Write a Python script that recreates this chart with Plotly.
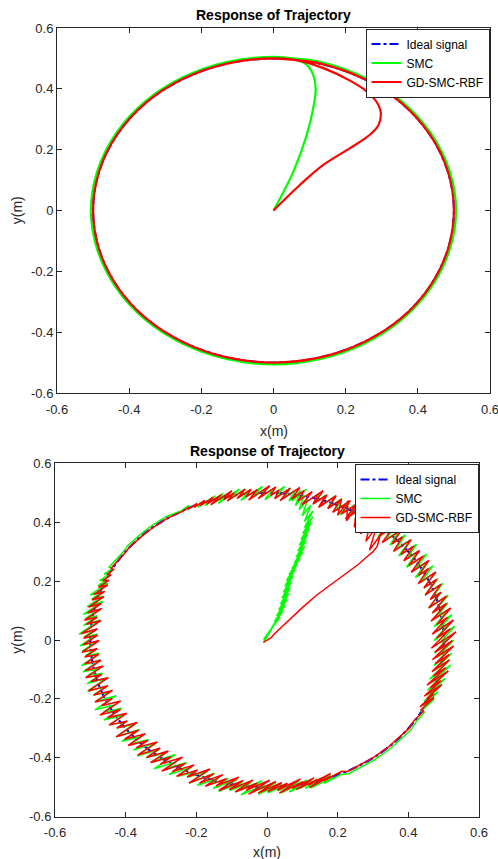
import plotly.graph_objects as go

# ---------------- data ----------------
tick_vals = [-0.6, -0.4, -0.2, 0, 0.2, 0.4, 0.6]
tick_text = ["-0.6", "-0.4", "-0.2", "0", "0.2", "0.4", "0.6"]

series_names = ["Ideal signal", "SMC", "GD-SMC-RBF"]

# ideal circle (radius 0.5), read every 15 degrees
ideal_pts = [(0.5, 0), (0.483, 0.129), (0.433, 0.25), (0.354, 0.354), (0.25, 0.433), (0.129, 0.483),
             (0, 0.5), (-0.129, 0.483), (-0.25, 0.433), (-0.354, 0.354), (-0.433, 0.25), (-0.483, 0.129),
             (-0.5, 0), (-0.483, -0.129), (-0.433, -0.25), (-0.354, -0.354), (-0.25, -0.433), (-0.129, -0.483),
             (0, -0.5), (0.129, -0.483), (0.25, -0.433), (0.354, -0.354), (0.433, -0.25), (0.483, -0.129),
             (0.5, 0)]

# top panel: SMC
smc_top_pts = [(0, 0), (0.028, 0.062), (0.055, 0.128), (0.092, 0.248), (0.11, 0.336), (0.117, 0.4),
               (0.11, 0.446), (0.092, 0.479), (0.055, 0.498), (0.0, 0.505),
               (-0.130, 0.488), (-0.2525, 0.437), (-0.357, 0.357), (-0.437, 0.2525), (-0.488, 0.130),
               (-0.506, 0), (-0.488, -0.130), (-0.437, -0.2525), (-0.357, -0.357), (-0.2525, -0.437),
               (-0.130, -0.488), (0, -0.506), (0.130, -0.488), (0.2525, -0.437), (0.357, -0.357),
               (0.437, -0.2525), (0.488, -0.130), (0.506, 0), (0.488, 0.130), (0.437, 0.2525),
               (0.357, 0.357), (0.2525, 0.437), (0.130, 0.488), (0.0, 0.504)]

# top panel: GD-SMC-RBF
rbf_top_pts = [(0, 0), (0.073, 0.084), (0.138, 0.15), (0.212, 0.205), (0.267, 0.249), (0.291, 0.281),
               (0.297, 0.325), (0.284, 0.36), (0.26, 0.39), (0.212, 0.427), (0.138, 0.468), (0.07, 0.493),
               (0, 0.5), (-0.129, 0.483), (-0.25, 0.433), (-0.354, 0.354), (-0.433, 0.25), (-0.483, 0.129),
               (-0.5, 0), (-0.483, -0.129), (-0.433, -0.25), (-0.354, -0.354), (-0.25, -0.433), (-0.129, -0.483),
               (0, -0.5), (0.129, -0.483), (0.25, -0.433), (0.354, -0.354), (0.433, -0.25), (0.483, -0.129),
               (0.5, 0), (0.483, 0.129), (0.433, 0.25), (0.354, 0.354), (0.25, 0.433), (0.129, 0.483), (0, 0.5)]

# bottom panel: SMC with chattering (read along the path)
smc_bot_pts = [
    (-0.010, -0.008),
    (0.014, 0.038), (-0.010, 0.002), (0.026, 0.058), (0.002, 0.022), (0.037, 0.078), (0.013, 0.042),
    (0.045, 0.098), (0.021, 0.062), (0.051, 0.118), (0.027, 0.082), (0.057, 0.138), (0.033, 0.102),
    (0.062, 0.158), (0.038, 0.122), (0.066, 0.178), (0.042, 0.142), (0.070, 0.198), (0.046, 0.162),
    (0.074, 0.218), (0.050, 0.182), (0.079, 0.238), (0.055, 0.202), (0.086, 0.258), (0.062, 0.222),
    (0.094, 0.278), (0.070, 0.242), (0.101, 0.298), (0.077, 0.262), (0.107, 0.318), (0.083, 0.282),
    (0.111, 0.338), (0.087, 0.302), (0.115, 0.358), (0.091, 0.322), (0.120, 0.378), (0.096, 0.342),
    (0.125, 0.398), (0.101, 0.362), (0.130, 0.418), (0.106, 0.382), (0.130, 0.438), (0.106, 0.402),
    (0.124, 0.458), (0.100, 0.422), (0.115, 0.478), (0.091, 0.442), (0.105, 0.493), (0.081, 0.457),
    (0.094, 0.508), (0.070, 0.472),
    (0.112, 0.512), (0.062, 0.472), (0.080, 0.508), (0.050, 0.484), (0.066, 0.516), (0.022, 0.480),
    (0.050, 0.522), (-0.006, 0.477), (0.018, 0.514), (-0.018, 0.486), (-0.002, 0.516), (-0.042, 0.483),
    (-0.013, 0.522), (-0.074, 0.474), (-0.050, 0.508), (-0.080, 0.484), (-0.062, 0.512), (-0.112, 0.472),
    (-0.078, 0.512), (-0.138, 0.464), (-0.118, 0.493), (-0.141, 0.473), (-0.124, 0.498), (-0.176, 0.456),
    (-0.146, 0.490), (-0.196, 0.450), (-0.176, 0.474), (-0.206, 0.450), (-0.197, 0.465), (-0.226, 0.441),
    (-0.221, 0.457), (-0.245, 0.437), (-0.263, 0.430),
    (-0.286, 0.419), (-0.331, 0.384), (-0.354, 0.363), (-0.393, 0.322), (-0.410, 0.295), (-0.447, 0.247),
    (-0.437, 0.243), (-0.461, 0.224), (-0.443, 0.226), (-0.474, 0.202), (-0.455, 0.203), (-0.479, 0.184),
    (-0.451, 0.193), (-0.500, 0.153), (-0.466, 0.164), (-0.496, 0.139), (-0.465, 0.148), (-0.509, 0.113),
    (-0.464, 0.131), (-0.520, 0.087), (-0.479, 0.102), (-0.514, 0.073), (-0.480, 0.082), (-0.519, 0.050),
    (-0.472, 0.068), (-0.532, 0.020), (-0.489, 0.034), (-0.518, 0.010), (-0.479, 0.020), (-0.529, -0.020),
    (-0.484, -0.006), (-0.523, -0.038), (-0.490, -0.034), (-0.514, -0.053), (-0.474, -0.045), (-0.525, -0.087),
    (-0.471, -0.067), (-0.521, -0.108), (-0.477, -0.097), (-0.507, -0.121), (-0.465, -0.113), (-0.509, -0.148),
    (-0.453, -0.129), (-0.508, -0.174), (-0.455, -0.158), (-0.492, -0.187), (-0.446, -0.177), (-0.485, -0.209),
    (-0.427, -0.189), (-0.487, -0.237), (-0.432, -0.221), (-0.462, -0.245), (-0.411, -0.232), (-0.462, -0.272),
    (-0.405, -0.255), (-0.445, -0.287), (-0.401, -0.279), (-0.425, -0.299), (-0.374, -0.286), (-0.426, -0.328),
    (-0.361, -0.304), (-0.411, -0.344), (-0.357, -0.328), (-0.386, -0.353), (-0.335, -0.339), (-0.378, -0.374),
    (-0.313, -0.349), (-0.368, -0.394), (-0.306, -0.372), (-0.342, -0.400), (-0.287, -0.384), (-0.327, -0.416),
    (-0.259, -0.389), (-0.319, -0.437), (-0.256, -0.413), (-0.286, -0.437), (-0.227, -0.416), (-0.277, -0.457),
    (-0.213, -0.431), (-0.253, -0.463), (-0.201, -0.448), (-0.225, -0.466), (-0.167, -0.445), (-0.219, -0.486),
    (-0.148, -0.453), (-0.197, -0.494), (-0.137, -0.469), (-0.166, -0.492), (-0.109, -0.470), (-0.152, -0.504),
    (-0.081, -0.470), (-0.137, -0.514), (-0.069, -0.482), (-0.106, -0.511), (-0.046, -0.484), (-0.086, -0.515),
    (-0.014, -0.478), (-0.074, -0.526), (-0.007, -0.492), (-0.037, -0.515), (0.025, -0.484), (-0.025, -0.524),
    (0.042, -0.488), (0.002, -0.519), (0.056, -0.492), (0.032, -0.512), (0.092, -0.479), (0.040, -0.520),
    (0.112, -0.476), (0.063, -0.516), (0.124, -0.480), (0.094, -0.504), (0.152, -0.469), (0.108, -0.504),
    (0.180, -0.458), (0.123, -0.503), (0.185, -0.468), (0.162, -0.487), (0.209, -0.457),
    (0.231, -0.454), (0.277, -0.425), (0.305, -0.406), (0.347, -0.371), (0.371, -0.346), (0.407, -0.306),
    (0.422, -0.278), (0.445, -0.246), (0.436, -0.243),
    (0.473, -0.201), (0.443, -0.225), (0.484, -0.176), (0.444, -0.208), (0.492, -0.156), (0.452, -0.188),
    (0.504, -0.131), (0.454, -0.171), (0.503, -0.115), (0.467, -0.144), (0.520, -0.085), (0.460, -0.133),
    (0.514, -0.071), (0.474, -0.103), (0.523, -0.045), (0.473, -0.086), (0.520, -0.028), (0.480, -0.060),
    (0.529, 0.000), (0.474, -0.044), (0.517, 0.012), (0.487, -0.012), (0.531, 0.046), (0.472, -0.002),
    (0.520, 0.060), (0.480, 0.028), (0.523, 0.086), (0.473, 0.045), (0.512, 0.102), (0.477, 0.073),
    (0.512, 0.126), (0.468, 0.091), (0.513, 0.152), (0.457, 0.108), (0.494, 0.163), (0.464, 0.139),
    (0.497, 0.192), (0.447, 0.152), (0.484, 0.208), (0.444, 0.176), (0.475, 0.228), (0.435, 0.196),
    (0.470, 0.252), (0.420, 0.212), (0.453, 0.265), (0.417, 0.237), (0.452, 0.292), (0.395, 0.247),
    (0.426, 0.300), (0.396, 0.276), (0.423, 0.325), (0.373, 0.286), (0.405, 0.339), (0.364, 0.307),
    (0.392, 0.357), (0.348, 0.322), (0.373, 0.369), (0.337, 0.341), (0.364, 0.390), (0.314, 0.350),
    (0.343, 0.401), (0.302, 0.368), (0.333, 0.421), (0.278, 0.376), (0.303, 0.423), (0.273, 0.399),
    (0.292, 0.441), (0.248, 0.406), (0.271, 0.451), (0.231, 0.419), (0.257, 0.466), (0.207, 0.425),
    (0.230, 0.469), (0.194, 0.441), (0.212, 0.480), (0.172, 0.448), (0.194, 0.489), (0.149, 0.454),
    (0.166, 0.491), (0.136, 0.467), (0.150, 0.501)]

# bottom panel: GD-SMC-RBF with chattering (read along the path)
rbf_bot_pts = [
    (-0.010, -0.008), (0.010, 0.006), (0.022, 0.022), (0.046, 0.050), (0.070, 0.078), (0.100, 0.110),
    (0.140, 0.152), (0.180, 0.188), (0.210, 0.212), (0.235, 0.236), (0.260, 0.258), (0.282, 0.282),
    (0.300, 0.300), (0.312, 0.318),
    (0.320, 0.355), (0.290, 0.305), (0.310, 0.385), (0.280, 0.335), (0.295, 0.410), (0.265, 0.360),
    (0.277, 0.433), (0.247, 0.383), (0.255, 0.455), (0.225, 0.405), (0.230, 0.473), (0.200, 0.423),
    (0.211, 0.478), (0.172, 0.446), (0.196, 0.490), (0.146, 0.450), (0.165, 0.489), (0.135, 0.465),
    (0.159, 0.507), (0.099, 0.459), (0.128, 0.504), (0.088, 0.472), (0.105, 0.507), (0.069, 0.478),
    (0.093, 0.518), (0.037, 0.473), (0.066, 0.516), (0.022, 0.480), (0.034, 0.509), (0.010, 0.490),
    (0.025, 0.520), (-0.025, 0.480), (0.008, 0.524), (-0.052, 0.475), (-0.027, 0.511), (-0.060, 0.485),
    (-0.045, 0.512), (-0.085, 0.480), (-0.062, 0.512), (-0.112, 0.472), (-0.093, 0.500), (-0.123, 0.476),
    (-0.099, 0.507), (-0.159, 0.459), (-0.130, 0.493), (-0.170, 0.461), (-0.153, 0.484), (-0.189, 0.455),
    (-0.176, 0.474), (-0.206, 0.450), (-0.199, 0.463), (-0.223, 0.444), (-0.221, 0.451), (-0.241, 0.436),
    (-0.260, 0.425),
    (-0.282, 0.414), (-0.326, 0.379), (-0.349, 0.358), (-0.388, 0.317), (-0.405, 0.291), (-0.441, 0.244),
    (-0.434, 0.239), (-0.453, 0.223), (-0.441, 0.221), (-0.465, 0.202), (-0.447, 0.203), (-0.477, 0.179),
    (-0.450, 0.187), (-0.490, 0.155), (-0.459, 0.165), (-0.495, 0.136), (-0.461, 0.147), (-0.505, 0.112),
    (-0.468, 0.124), (-0.508, 0.092), (-0.467, 0.107), (-0.517, 0.067), (-0.481, 0.077), (-0.511, 0.053),
    (-0.470, 0.066), (-0.526, 0.021), (-0.480, 0.038), (-0.519, 0.006), (-0.480, 0.016), (-0.520, -0.016),
    (-0.475, -0.002), (-0.524, -0.042), (-0.480, -0.029), (-0.516, -0.058), (-0.476, -0.049), (-0.516, -0.081),
    (-0.470, -0.069), (-0.514, -0.104), (-0.463, -0.088), (-0.513, -0.128), (-0.468, -0.117), (-0.498, -0.141),
    (-0.449, -0.128), (-0.505, -0.173), (-0.450, -0.155), (-0.490, -0.187), (-0.437, -0.171), (-0.487, -0.211),
    (-0.438, -0.199), (-0.468, -0.223), (-0.414, -0.207), (-0.473, -0.255), (-0.415, -0.236), (-0.451, -0.264),
    (-0.397, -0.249), (-0.447, -0.289), (-0.395, -0.275), (-0.425, -0.299), (-0.367, -0.280), (-0.427, -0.329),
    (-0.363, -0.306), (-0.403, -0.337), (-0.344, -0.318), (-0.393, -0.358), (-0.337, -0.341), (-0.370, -0.366),
    (-0.310, -0.346), (-0.366, -0.391), (-0.302, -0.367), (-0.341, -0.399), (-0.279, -0.377), (-0.330, -0.416),
    (-0.272, -0.397), (-0.302, -0.422), (-0.239, -0.398), (-0.298, -0.445), (-0.232, -0.419), (-0.268, -0.447),
    (-0.206, -0.424), (-0.256, -0.463), (-0.196, -0.441), (-0.226, -0.465), (-0.161, -0.438), (-0.221, -0.486),
    (-0.151, -0.454), (-0.191, -0.486), (-0.125, -0.457), (-0.175, -0.497), (-0.115, -0.471), (-0.144, -0.495),
    (-0.080, -0.466), (-0.136, -0.511), (-0.067, -0.477), (-0.107, -0.508), (-0.040, -0.476), (-0.090, -0.516),
    (-0.028, -0.486), (-0.059, -0.510), (0.008, -0.476), (-0.052, -0.523), (0.025, -0.480), (-0.025, -0.520),
    (0.042, -0.484), (0.002, -0.515), (0.058, -0.486), (0.029, -0.510), (0.095, -0.472), (0.035, -0.520),
    (0.102, -0.481), (0.072, -0.504), (0.133, -0.468), (0.083, -0.508), (0.142, -0.473), (0.117, -0.493),
    (0.180, -0.453), (0.120, -0.501), (0.181, -0.462), (0.161, -0.478), (0.211, -0.446),
    (0.227, -0.447), (0.273, -0.418), (0.300, -0.400), (0.342, -0.365), (0.365, -0.341), (0.401, -0.301),
    (0.416, -0.274), (0.443, -0.242), (0.436, -0.237),
    (0.473, -0.195), (0.433, -0.227), (0.472, -0.183), (0.452, -0.199), (0.495, -0.151), (0.445, -0.191),
    (0.492, -0.138), (0.462, -0.162), (0.513, -0.105), (0.453, -0.153), (0.506, -0.094), (0.470, -0.123),
    (0.517, -0.067), (0.467, -0.107), (0.516, -0.049), (0.476, -0.081), (0.528, -0.020), (0.468, -0.067),
    (0.524, -0.002), (0.475, -0.042), (0.535, 0.028), (0.465, -0.028), (0.519, 0.038), (0.480, 0.006),
    (0.528, 0.068), (0.468, 0.020), (0.511, 0.077), (0.481, 0.053), (0.520, 0.109), (0.464, 0.064),
    (0.508, 0.124), (0.468, 0.092), (0.508, 0.149), (0.458, 0.109), (0.492, 0.162), (0.462, 0.138),
    (0.492, 0.189), (0.448, 0.153), (0.480, 0.206), (0.444, 0.177), (0.478, 0.231), (0.428, 0.191),
    (0.458, 0.243), (0.429, 0.219), (0.458, 0.270), (0.408, 0.230), (0.442, 0.285), (0.402, 0.253),
    (0.432, 0.304), (0.387, 0.269), (0.415, 0.319), (0.379, 0.290), (0.408, 0.341), (0.358, 0.301),
    (0.383, 0.350), (0.354, 0.326), (0.382, 0.376), (0.326, 0.331), (0.358, 0.384), (0.318, 0.353),
    (0.343, 0.401), (0.300, 0.365), (0.322, 0.411), (0.286, 0.382), (0.312, 0.430), (0.262, 0.390),
    (0.284, 0.434), (0.254, 0.410), (0.278, 0.455), (0.222, 0.411), (0.251, 0.459), (0.211, 0.428),
    (0.236, 0.473), (0.186, 0.433), (0.206, 0.474), (0.176, 0.450), (0.191, 0.486), (0.151, 0.454),
    (0.170, 0.493), (0.130, 0.461), (0.144, 0.495)]

# ---------------- styles ----------------
AX_COLOR = "#262626"
FONT = "Liberation Sans, Arial, sans-serif"
W, H = 498, 859
BLUE, GREEN, RED = "#0000FF", "#00FF00", "#FF0000"


def xy(pts):
    return [p[0] for p in pts], [p[1] for p in pts]


fig = go.Figure()

panels = [
    dict(xa="x", ya="y", legend="legend", smc=smc_top_pts, rbf=rbf_top_pts, lw=2.2, shape="spline"),
    dict(xa="x2", ya="y2", legend="legend2", smc=smc_bot_pts, rbf=rbf_bot_pts, lw=1.5, shape="linear"),
]

for p in panels:
    ix, iy = xy(ideal_pts)
    fig.add_trace(go.Scatter(x=ix, y=iy, mode="lines", name=series_names[0], xaxis=p["xa"], yaxis=p["ya"],
                             legend=p["legend"], line=dict(color=BLUE, width=2.2, dash="dashdot", shape="spline")))
    sx, sy = xy(p["smc"])
    fig.add_trace(go.Scatter(x=sx, y=sy, mode="lines", name=series_names[1], xaxis=p["xa"], yaxis=p["ya"],
                             legend=p["legend"], line=dict(color=GREEN, width=p["lw"], shape=p["shape"])))
    rx, ry = xy(p["rbf"])
    fig.add_trace(go.Scatter(x=rx, y=ry, mode="lines", name=series_names[2], xaxis=p["xa"], yaxis=p["ya"],
                             legend=p["legend"], line=dict(color=RED, width=p["lw"], shape=p["shape"])))

axis_common = dict(range=[-0.6, 0.6], tickvals=tick_vals, ticktext=tick_text, ticks="inside", ticklen=5,
                   tickcolor=AX_COLOR, tickwidth=1, showline=True, linecolor=AX_COLOR, linewidth=1,
                   mirror="ticks", showgrid=False, zeroline=False, automargin=False,
                   ticklabeloverflow="allow",
                   tickfont=dict(family=FONT, size=13, color=AX_COLOR))

# pixel boxes of the two plotting areas
top_box = (57, 490, 28, 393)
bot_box = (55, 479, 463.3, 816.7)


def dom_x(b):
    return [b[0] / W, b[1] / W]


def dom_y(b):
    return [1 - b[3] / H, 1 - b[2] / H]


fig.update_layout(
    width=W, height=H, margin=dict(l=0, r=0, t=0, b=0, autoexpand=False),
    paper_bgcolor="white", plot_bgcolor="white", showlegend=True,
    xaxis=dict(domain=dom_x(top_box), anchor="y", ticklabelstandoff=4, **axis_common),
    yaxis=dict(domain=dom_y(top_box), anchor="x", **axis_common),
    xaxis2=dict(domain=dom_x(bot_box), anchor="y2", ticklabelstandoff=4, **axis_common),
    yaxis2=dict(domain=dom_y(bot_box), anchor="x2", **axis_common),
    legend=dict(x=489.5 / W, y=1 - 28.5 / H, xanchor="right", yanchor="top", bgcolor="white",
                bordercolor=AX_COLOR, borderwidth=1, itemwidth=30, tracegroupgap=0,
                font=dict(family=FONT, size=12, color="black")),
    legend2=dict(x=478.5 / W, y=1 - 464 / H, xanchor="right", yanchor="top", bgcolor="white",
                 bordercolor=AX_COLOR, borderwidth=1, itemwidth=30, tracegroupgap=0,
                 font=dict(family=FONT, size=12, color="black")),
)

ann = []
for box, ty in ((top_box, 15), (bot_box, 451)):
    cx = (box[0] + box[1]) / 2
    ann.append(dict(text="<b>Response of Trajectory</b>", x=cx / W, y=1 - ty / H, xref="paper", yref="paper",
                    showarrow=False, xanchor="center", yanchor="middle",
                    font=dict(family=FONT, size=14, color="black")))
for box, ly in ((top_box, 431), (bot_box, 851.5)):
    cx = (box[0] + box[1]) / 2
    ann.append(dict(text="x(m)", x=cx / W, y=1 - ly / H, xref="paper", yref="paper", showarrow=False,
                    xanchor="center", yanchor="middle", font=dict(family=FONT, size=14, color=AX_COLOR)))
    cy = (box[2] + box[3]) / 2
    ann.append(dict(text="y(m)", x=16.7 / W, y=1 - cy / H, xref="paper", yref="paper", showarrow=False,
                    xanchor="center", yanchor="middle", textangle=-90,
                    font=dict(family=FONT, size=14, color=AX_COLOR)))
fig.update_layout(annotations=ann)

fig.write_html("out.html", config={"displayModeBar": False},
               post_script="document.body.style.margin='0';document.body.style.overflow='hidden';")
